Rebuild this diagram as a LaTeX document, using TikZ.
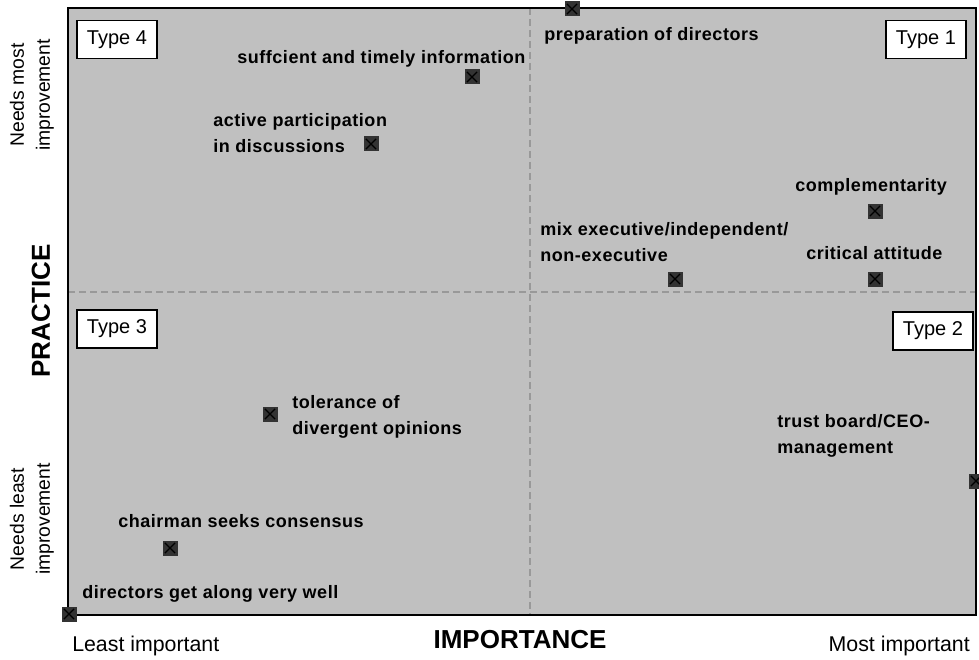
\documentclass[tikz,border=0pt]{standalone}
\usepackage{fontspec}
\setmainfont{Liberation Sans}
\newfontfamily\lblfont[LetterSpace=3]{Liberation Sans}
\definecolor{plotgray}{HTML}{C0C0C0}
\definecolor{dashgray}{HTML}{999999}
\definecolor{markgray}{HTML}{333333}
\tikzset{
  mark box/.style={rectangle, fill=markgray, minimum size=11.25pt, inner sep=0pt,
    path picture={\draw[black, line width=0.9pt]
      ([shift={(1.8pt,1.8pt)}]path picture bounding box.south west) -- ([shift={(-1.8pt,-1.8pt)}]path picture bounding box.north east)
      ([shift={(1.8pt,-1.8pt)}]path picture bounding box.north west) -- ([shift={(-1.8pt,1.8pt)}]path picture bounding box.south east);}},
  item/.style={anchor=base west, inner sep=0pt, font=\lblfont\bfseries\fontsize{13.5}{18.8}\selectfont, align=left},
  typebox/.style={draw=black, fill=white, line width=0.8pt, inner sep=0pt, minimum width=60pt, minimum height=28.5pt, font=\fontsize{15}{18}\selectfont},
  axisend/.style={anchor=base west, inner sep=0pt, font=\fontsize{16}{19}\selectfont},
  axistitle/.style={inner sep=0pt, font=\bfseries\fontsize{19.5}{23}\selectfont},
  sidelabel/.style={rotate=90, inner sep=0pt, align=center, font=\fontsize{14.5}{19.5}\selectfont}
}
\begin{document}
\begin{tikzpicture}[x=0.75pt,y=0.75pt,yscale=-1,xscale=1]
\useasboundingbox (0,0) rectangle (979,660);

%Shape: plot area
\fill[plotgray] (68,8) rectangle (976,615);
%Straight Lines: quadrant dividers
\draw[dashgray, line width=2.1pt, dash pattern=on 5.25pt off 3pt] (530,8) -- (530,615);
\draw[dashgray, line width=2.1pt, dash pattern=on 5.25pt off 3pt] (68,292) -- (976,292);
\draw[black, line width=1pt] (68,8) rectangle (976,615);

% Type boxes
\node[typebox] (type4) at (117,39.5) {Type 4};
\node[typebox] (type1) at (926,39.5) {Type 1};
\node[typebox] (type3) at (117,329) {Type 3};
\node[typebox] (type2) at (933,331) {Type 2};

% Markers
\node[mark box] (prep) at (572,9) {};
\node[mark box] (info) at (472,77) {};
\node[mark box] (active) at (371,144) {};
\node[mark box] (compl) at (875,211) {};
\node[mark box] (critic) at (875,279) {};
\node[mark box] (mix) at (675,279) {};
\node[mark box] (toler) at (270,414) {};
\node[mark box] (trust) at (976,481) {};
\node[mark box] (chair) at (170,548) {};
\node[mark box] (along) at (69,614) {};

% Text Node (base = last line)
\node[item] (prepl) at (544,41) {preparation of directors};
\node[item] (infol) at (237,64) {suffcient and timely information};
\node[item] (activel) at (213,152) {active participation\\in discussions};
\node[item] (compll) at (795,191) {complementarity};
\node[item] (mixl) at (540,261) {mix executive/independent/\\non-executive};
\node[item] (criticl) at (806,259) {critical attitude};
\node[item] (tolerl) at (292,434) {tolerance of\\divergent opinions};
\node[item] (trustl) at (777,453) {trust board/CEO-\\management};
\node[item] (chairl) at (118,527) {chairman seeks consensus};
\node[item] (alongl) at (82,598) {directors get along very well};

% Axis labels
\node[axisend] (least) at (72,651) {Least important};
\node[axisend, anchor=base east] (most) at (970,651) {Most important};
\node[axistitle, anchor=base] (imp) at (520,648) {IMPORTANCE};
\node[axistitle, rotate=90] (prac) at (41,311) {PRACTICE};
\node[sidelabel] (needmost) at (32,95) {Needs most\\improvement};
\node[sidelabel] (needleast) at (32,519) {Needs least\\improvement};

\end{tikzpicture}
\end{document}
